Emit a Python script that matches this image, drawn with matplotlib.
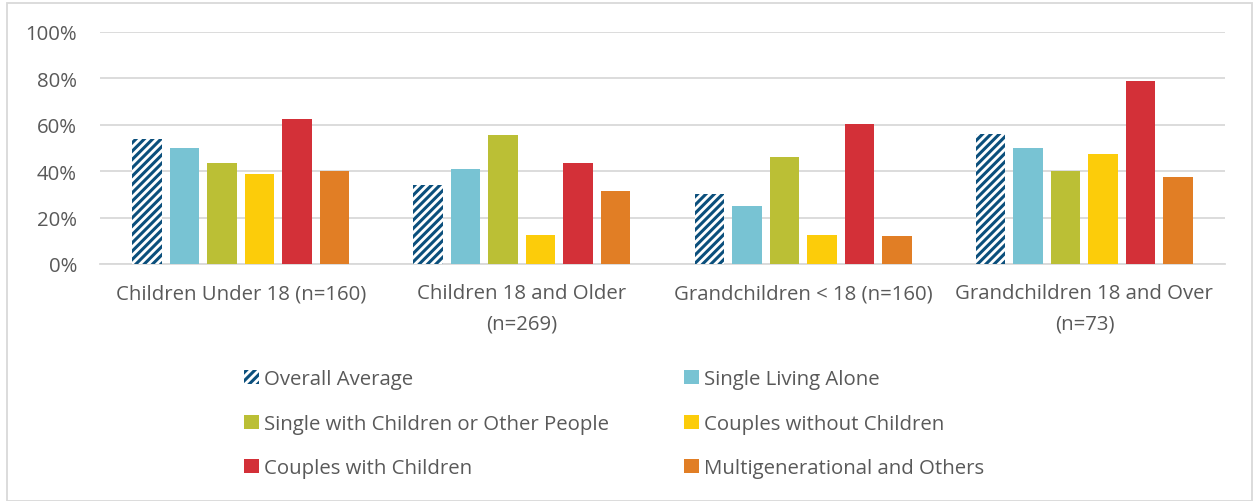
import matplotlib
matplotlib.use("Agg")
import matplotlib.pyplot as plt
import numpy as np
from matplotlib.patches import Rectangle, Patch

plt.rcParams['font.family'] = ['Open Sans', 'DejaVu Sans']
plt.rcParams['hatch.linewidth'] = 2.2

categories = ["Children Under 18 (n=160)", "Children 18 and Older\n(n=269)",
              "Grandchildren < 18 (n=160)", "Grandchildren 18 and Over\n(n=73)"]
series_names = ["Overall Average", "Single Living Alone",
                "Single with Children or Other People", "Couples without Children",
                "Couples with Children", "Multigenerational and Others"]
overall_average = [54, 34, 30, 56]
single_alone = [50, 41, 25, 50]
single_with_others = [43.5, 55.5, 46, 40]
couples_no_children = [39, 12.5, 12.5, 47.5]
couples_with_children = [62.5, 43.5, 60.5, 79]
multigenerational = [40, 31.5, 12, 37.5]
series_values = [overall_average, single_alone, single_with_others,
                 couples_no_children, couples_with_children, multigenerational]
yticks = [0, 20, 40, 60, 80, 100]
ytick_labels = ["0%", "20%", "40%", "60%", "80%", "100%"]

navy = "#0B4F7C"
colors = [None, "#78C3D3", "#BBBF35", "#FCCC0A", "#D33038", "#E17E25"]
text_color = "#595959"
fs = 14.7

W, H = 1253, 502
fig = plt.figure(figsize=(W / 100, H / 100), dpi=100)
ax = fig.add_axes([100 / W, 1 - 265 / H, 1125 / W, 232 / H])

x = np.arange(len(categories))
pitch = 0.1333
width = 0.105
for i, vals in enumerate(series_values):
    pos = x + (i - 2.5) * pitch
    if i == 0:
        ax.bar(pos, vals, width, facecolor="white", edgecolor=navy, hatch="////",
               linewidth=0, label=series_names[i], zorder=3)
    else:
        ax.bar(pos, vals, width, color=colors[i], linewidth=0,
               label=series_names[i], zorder=3)

ax.set_xlim(-0.5, len(categories) - 0.5)
ax.set_ylim(0, 100)
ax.set_yticks(yticks)
ax.set_yticklabels(ytick_labels)
ax.set_xticks(x)
ax.set_xticklabels(categories, linespacing=1.7)
ax.yaxis.grid(True, color="#D9D9D9", linewidth=1.3, zorder=0)
for s in ["top", "right", "left"]:
    ax.spines[s].set_visible(False)
ax.spines["bottom"].set_color("#D9D9D9")
ax.spines["bottom"].set_linewidth(1.3)
ax.tick_params(axis="both", length=0, colors=text_color, labelsize=fs)
ax.tick_params(axis="y", pad=16.5)
ax.tick_params(axis="x", pad=14)

handles = []
for i in range(len(series_names)):
    if i == 0:
        handles.append(Patch(facecolor="white", edgecolor=navy, hatch="////",
                             linewidth=0, label=series_names[i]))
    else:
        handles.append(Patch(facecolor=colors[i], linewidth=0, label=series_names[i]))
# reorder to fill rows (matplotlib fills column-wise)
order = [0, 2, 4, 1, 3, 5]
leg = fig.legend([handles[k] for k in order], [series_names[k] for k in order],
                 ncol=2, loc="upper left", bbox_to_anchor=(226 / W, 1 - 352 / H),
                 frameon=False, fontsize=fs, handlelength=0.7, handleheight=0.7,
                 handletextpad=0.25, columnspacing=3.7, labelspacing=1.2,
                 labelcolor=text_color)

fig.patches.append(Rectangle((7 / W, 0), 1 - 8 / W, 1 - 4 / H, transform=fig.transFigure,
                             fill=False, edgecolor="#D9D9D9", linewidth=1.3))

fig.savefig("out.png", dpi=100, facecolor="white")
